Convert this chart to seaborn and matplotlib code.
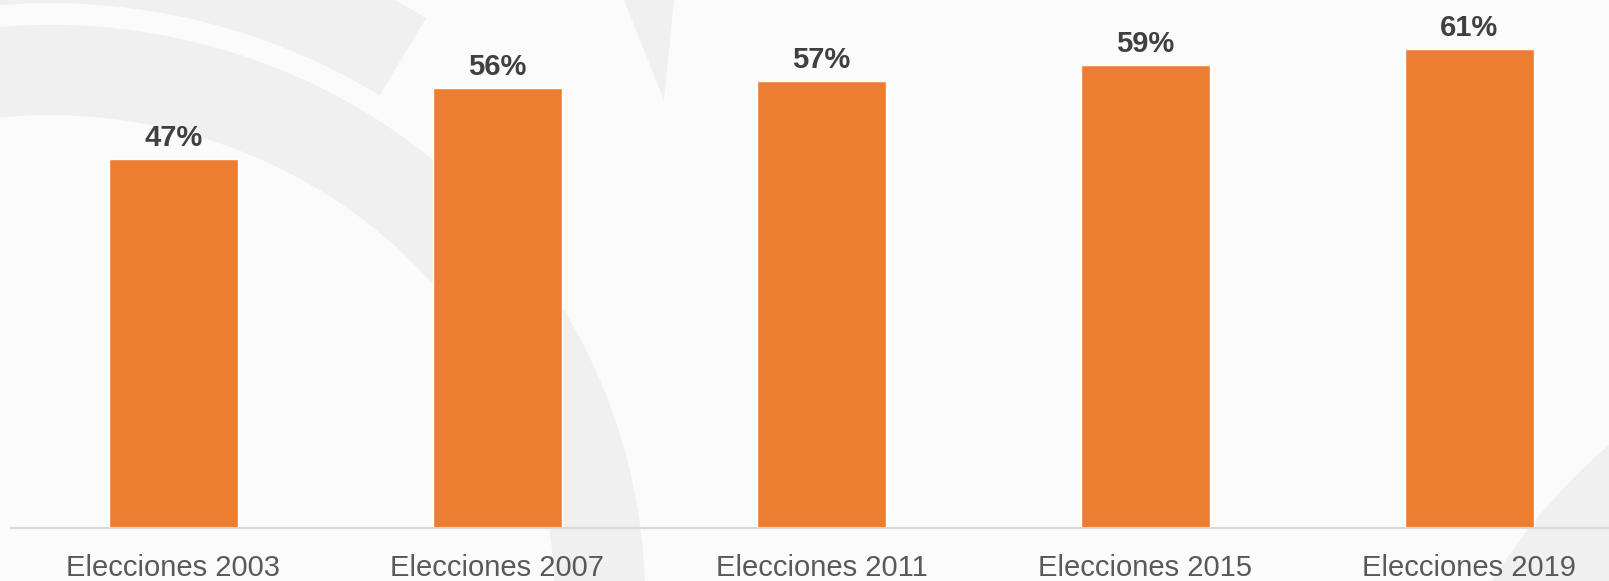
import numpy as np
import pandas as pd
import matplotlib
matplotlib.use("Agg")
import matplotlib.pyplot as plt
from matplotlib.patches import Arc, Wedge, Polygon
import seaborn as sns

# ---------------- datos
categorias = ["Elecciones 2003", "Elecciones 2007", "Elecciones 2011",
              "Elecciones 2015", "Elecciones 2019"]
valores = [47, 56, 57, 59, 61]
etiquetas = [f"{v}%" for v in valores]

df = pd.DataFrame({"eleccion": categorias, "pct": valores})

sns.set_theme(style="white")
plt.rcParams["font.family"] = ["Liberation Sans", "DejaVu Sans"]

W, H = 1609, 581
fig = plt.figure(figsize=(W / 100, H / 100), dpi=100)
fig.patch.set_facecolor("#fbfbfb")

# ---------------- marca de agua de fondo (solo decoracion)
bg = fig.add_axes([0, 0, 1, 1], zorder=0)
bg.set_xlim(0, W)
bg.set_ylim(H, 0)
bg.axis("off")
gris = "#f0f0f0"
# banda principal y banda exterior (arcos gruesos)
bg.add_patch(Arc((50, 600), 1100, 1060, theta1=250, theta2=370,
                 lw=65, color=gris, capstyle="butt"))
bg.add_patch(Arc((50, 600), 1324, 1284, theta1=255, theta2=303,
                 lw=65, color=gris, capstyle="butt"))
# punta superior
bg.add_patch(Polygon([(624, 0), (674, 0), (664, 100)], closed=True,
                     color=gris, lw=0))
# esquina inferior derecha
bg.add_patch(Wedge((2000, 900), 600, 180, 270, width=220, color=gris, lw=0))

# ---------------- grafico
ax = fig.add_axes([11.4 / W, 53 / H, 1620 / W, 67.5 * 7.85 / H], zorder=1)
ax.patch.set_alpha(0)

sns.barplot(data=df, x="eleccion", y="pct", color="#ED7D31", saturation=1,
            width=0.4, ax=ax)

ax.bar_label(ax.containers[0], labels=etiquetas, padding=5, fontsize=21,
             fontweight="bold", color="#404040")

ax.set_xlim(-0.5, 4.5)
ax.set_ylim(0, 67.5)
ax.set_xlabel("")
ax.set_ylabel("")
ax.set_yticks([])
ax.tick_params(axis="x", length=0, pad=19, labelsize=21, labelcolor="#595959")

for s in ["top", "right", "left"]:
    ax.spines[s].set_visible(False)
ax.spines["bottom"].set_color("#d9d9d9")
ax.spines["bottom"].set_linewidth(1.5)

fig.savefig("out.png", dpi=100, facecolor=fig.get_facecolor())
